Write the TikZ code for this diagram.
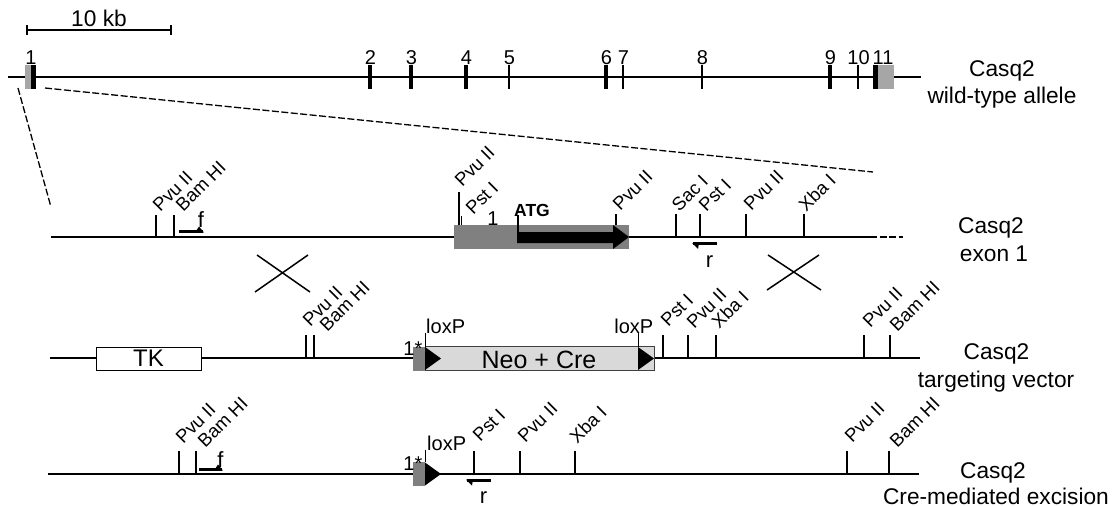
\documentclass[tikz,border=0pt]{standalone}
\usepackage{fontspec}
\setmainfont{Liberation Sans}
\newcommand{\fs}[1]{\fontsize{#1}{#1}\selectfont}
\newcounter{sitectr}
% \rsite{x}{ytop}{yline}{label}{label x}{label y}
\newcommand{\rsite}[6]{\stepcounter{sitectr}%
  \coordinate (base\arabic{sitectr}) at (#1,#3);
  \coordinate (top\arabic{sitectr}) at (#1,#2);
  \draw[thin line] (base\arabic{sitectr}) -- (top\arabic{sitectr});
  \node[site label] (lab\arabic{sitectr}) at (#5,#6) {#4};}
\newcommand{\exonmark}[3]{% x, style, label
  \coordinate (eb#1) at (#1,88.5);
  \coordinate (et#1) at (#1,65);
  \draw[#2] (eb#1) -- (et#1);
  \node[exon label] (en#1) at (#1.5,64.5) {#3};}
\newcommand{\sidelabel}[6]{% name, x1, y1, text1, position 2, text 2
  \node[side label] (#1a) at (#2,#3) {#4};
  \node[side label] (#1b) at #5 {#6};}
\tikzset{
  main line/.style={line width=1.9pt,black},
  thin line/.style={line width=1.2pt,black},
  thick exon/.style={line width=3.2pt,black},
  site label/.style={rotate=45,anchor=south west,inner sep=0pt,font=\fs{18.5}},
  exon label/.style={inner sep=0pt,anchor=base,font=\fs{20}},
  side label/.style={inner sep=0pt,anchor=base,font=\fs{22.7}},
  small label/.style={inner sep=0pt,anchor=base,font=\fs{22}},
  lox label/.style={inner sep=0pt,font=\fs{20}},
  cross/.style={line width=1.5pt,black},
  dash line/.style={line width=1.3pt,dash pattern=on 7pt off 2.5pt,black},
  primer/.style={line width=3pt,black},
}
\definecolor{gray50}{HTML}{808080}
\definecolor{gray65}{HTML}{A6A6A6}
\definecolor{neofill}{HTML}{D9D9D9}
\definecolor{neoedge}{HTML}{404040}
\begin{document}
\begin{tikzpicture}[x=1pt,y=-1pt]
\useasboundingbox (0,0) rectangle (1117,506);
% scale bar
\coordinate (sa) at (27,30); \coordinate (sb) at (171,30);
\draw[main line] (sa) -- (sb);
\draw[thin line] (27,25) -- (27,35) (171,25) -- (171,35);
\node[side label] (scale) at (99,27) {10 kb};
% wild-type allele
\coordinate (wa) at (8,77); \coordinate (wb) at (921,77);
\draw[main line] (wa) -- (wb);
\fill[gray65] (25,65) rectangle (30.5,88.5);
\fill[black] (30.5,65) rectangle (35.5,88.5);
\node[exon label] (en1) at (31,64.5) {1};
\exonmark{370}{thick exon}{2}
\exonmark{411}{thick exon}{3}
\exonmark{466}{thick exon}{4}
\exonmark{509}{thin line}{5}
\exonmark{606}{thick exon}{6}
\exonmark{623}{thin line}{7}
\exonmark{702}{thin line}{8}
\exonmark{830}{thick exon}{9}
\exonmark{858}{thin line}{10}
\fill[black] (873,65) rectangle (878,88.5);
\fill[gray65] (878,65) rectangle (894,88.5);
\node[exon label] (en11) at (883,64.5) {11};
\sidelabel{la}{1002}{76}{Casq2}{(1002,103)}{wild-type allele}
% zoom dashes
\coordinate (d1) at (18,88); \coordinate (d2) at (51,207);
\coordinate (d3) at (45,88); \coordinate (d4) at (873,172);
\draw[dash line] (d1) -- (d2);
\draw[dash line] (d3) -- (d4);
% exon 1
\coordinate (ea) at (51,237); \coordinate (eb) at (870,237); \coordinate (ec) at (903,237);
\draw[main line] (ea) -- (eb);
\draw[main line,dash pattern=on 7pt off 2.5pt] (eb) -- (ec);
\fill[gray50] (454,225) rectangle (629,249);
\fill[black] (517,232) -- (613,232) -- (613,225) -- (629,237) -- (613,249) -- (613,243) -- (517,243) -- cycle;
\rsite{156}{215}{237}{Pvu II}{160.5}{213}
\rsite{174}{215}{237}{Bam HI}{183.5}{213}
\rsite{459}{192}{225}{Pvu II}{462.5}{188}
\rsite{461.5}{216}{225}{Pst I}{473.5}{216}
\rsite{616}{214}{225}{Pvu II}{620.5}{212}
\rsite{676}{214}{237}{Sac I}{679.5}{213}
\rsite{700}{214}{237}{Pst I}{706.5}{213}
\rsite{746}{214}{237}{Pvu II}{751.5}{212}
\rsite{804}{214}{237}{Xba I}{806.5}{213}
\draw[thin line] (518,232) -- (518,215);
\node[inner sep=0pt,anchor=base west,font=\fs{17.5}\bfseries] (atg) at (514,216) {ATG};
\node[inner sep=0pt,anchor=base,font=\fs{20}] (one) at (493,225) {1};
\draw[primer] (179,231) -- (203,231);
\fill[black] (196,231) -- (199,226.5) -- (204,232.5) -- cycle;
\node[small label] (f1) at (201,227) {f};
\draw[primer] (693,243.5) -- (717,243.5);
\fill[black] (692,243) -- (699,243) -- (698,249) -- cycle;
\node[small label] (r1) at (709.5,267) {r};
\sidelabel{lb}{991}{233}{Casq2}{(994,261)}{exon 1}
% crosses
\draw[cross] (257,255) -- (310,292) (308,255) -- (255,292);
\draw[cross] (768,255) -- (821,290) (819,255) -- (767,290);
% targeting vector
\coordinate (ta) at (50,358); \coordinate (tb) at (920,358);
\draw[main line] (ta) -- (tb);
\node[draw=black,line width=.8pt,fill=white,minimum width=105pt,minimum height=23pt,inner sep=0pt] (tk) at (148.5,358.5) {};
\node[inner sep=0pt,font=\fs{24}] (tktext) at (tk) {TK};
\rsite{306}{335}{358}{Pvu II}{310.5}{328}
\rsite{314}{335}{358}{Bam HI}{327.5}{333}
\rsite{663}{335}{358}{Pst I}{668.5}{328}
\rsite{688}{335}{358}{Pvu II}{694.5}{330}
\rsite{716}{335}{358}{Xba I}{719.5}{330}
\rsite{864}{335}{358}{Pvu II}{870.5}{329}
\rsite{890}{335}{358}{Bam HI}{897.5}{333}
\node[draw=neoedge,line width=1pt,fill=neofill,minimum width=229pt,minimum height=23.5pt,inner sep=0pt] (neo) at (539.5,358.3) {};
\node[inner sep=0pt,anchor=base,font=\fs{25}] (neotext) at (539,368) {Neo + Cre};
\fill[gray50] (413,346.5) rectangle (425,370.5);
\node[inner sep=0pt,anchor=base east,font=\fs{20}] (st1) at (422.5,355) {1*};
\fill[black] (425,347) -- (441,358.5) -- (425,370) -- cycle;
\fill[black] (638,347) -- (654,358.5) -- (638,370) -- cycle;
\draw[thin line] (425.5,347) -- (425.5,333);
\draw[thin line] (638.5,347) -- (638.5,333);
\node[lox label,anchor=base west] (lox1) at (426,333) {loxP};
\node[lox label,anchor=base east] (lox2) at (653.5,333) {loxP};
\sidelabel{lc}{996.5}{359}{Casq2}{(996,387)}{targeting vector}
% excision
\coordinate (xa) at (48,474); \coordinate (xb) at (919,474);
\draw[main line] (xa) -- (xb);
\rsite{179}{451}{474}{Pvu II}{183.5}{445}
\rsite{196}{451}{474}{Bam HI}{205.5}{449}
\rsite{474}{451}{474}{Pst I}{480.5}{443}
\rsite{520}{451}{474}{Pvu II}{525.5}{444}
\rsite{575}{451}{474}{Xba I}{577.5}{445}
\rsite{847}{451}{474}{Pvu II}{852.5}{444}
\rsite{889}{451}{474}{Bam HI}{897.5}{449}
\fill[gray50] (413,462) rectangle (425,486);
\node[inner sep=0pt,anchor=base east,font=\fs{20}] (st2) at (422.5,470) {1*};
\fill[black] (425,462.5) -- (441,474) -- (425,485.5) -- cycle;
\draw[thin line] (425.5,462) -- (425.5,450);
\node[lox label,anchor=base west] (lox3) at (427,450) {loxP};
\draw[primer] (199,469) -- (222,469);
\fill[black] (215,469) -- (218,464.5) -- (223,470.5) -- cycle;
\node[small label] (f2) at (220.5,467) {f};
\draw[primer] (467,480) -- (491,480);
\fill[black] (466,479.5) -- (473,479.5) -- (472,485.5) -- cycle;
\node[small label] (r2) at (483.5,503) {r};
\sidelabel{ld}{993}{478}{Casq2}{(996,504)}{Cre-mediated excision}
\end{tikzpicture}
\end{document}
